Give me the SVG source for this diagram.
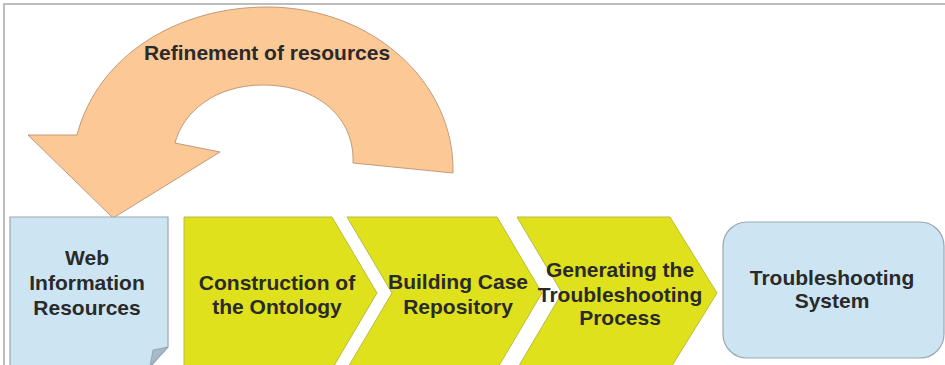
<svg xmlns="http://www.w3.org/2000/svg" width="945" height="365" viewBox="0 0 945 365">
  <style>
    .lbl { font-family: "Liberation Sans", Arial, sans-serif; font-weight: bold; font-size: 21px; fill: #2a2a2a; text-anchor: middle; }
    .chev { fill: #dfe11c; stroke: #b9bb3c; stroke-width: 1; }
    .blue { fill: #cde5f3; stroke: #9aa7b0; stroke-width: 1.2; }
  </style>
  <rect width="945" height="365" fill="#ffffff"/>
  <!-- outer frame (top and left edges) -->
  <path d="M4,370 V4 H945" fill="none" stroke="#a8a8a8" stroke-width="1.5"/>

  <!-- curved feedback arrow -->
  <g id="refinement">
    <path d="M77,135 C98,55 178,7 267,7 C372,7 455,82 453,173 L353,163 C355,118 318,85 263,85 C215,85 183,112 175,143 L220,152 L113,218 L28,135 Z"
          fill="#fbc896" stroke="#c49a78" stroke-width="1"/>
    <text class="lbl" x="267" y="60">Refinement of resources</text>
  </g>

  <g id="web-resources">
    <path class="blue" d="M10,217 H168 V347 L150,367 H10 Z"/>
    <polygon points="168,347 150,366 153,350" fill="#a7bac8" stroke="#8e9ea9" stroke-width="0.8"/>
    <text class="lbl" x="87" y="265">Web</text>
    <text class="lbl" x="87" y="290">Information</text>
    <text class="lbl" x="87" y="315">Resources</text>
  </g>

  <g id="ontology">
    <polygon class="chev" points="184,217 332,217 377,293 332,369 184,369"/>
    <text class="lbl" x="277" y="290">Construction of</text>
    <text class="lbl" x="277" y="314">the Ontology</text>
  </g>

  <g id="case-repository">
    <polygon class="chev" points="347,217 497,217 542,293 497,369 347,369 392,293"/>
    <text class="lbl" x="458" y="289">Building Case</text>
    <text class="lbl" x="458" y="314">Repository</text>
  </g>

  <g id="generating-process">
    <polygon class="chev" points="517,217 670,217 717,293 670,369 517,369 562,293"/>
    <text class="lbl" x="620" y="277">Generating the</text>
    <text class="lbl" x="620" y="302">Troubleshooting</text>
    <text class="lbl" x="620" y="325">Process</text>
  </g>

  <g id="troubleshooting-system">
    <rect class="blue" x="723" y="222" width="221" height="136" rx="24" ry="24"/>
    <text class="lbl" x="832" y="285">Troubleshooting</text>
    <text class="lbl" x="832" y="308">System</text>
  </g>

  <g id="connectors"></g>
</svg>
